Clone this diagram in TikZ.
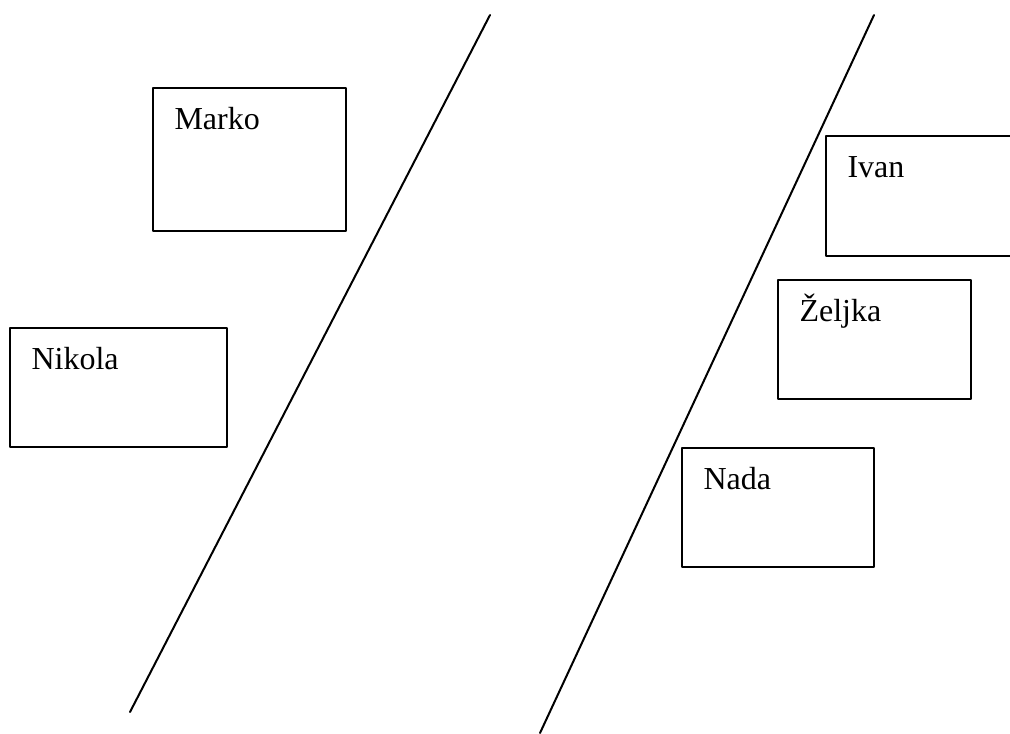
\documentclass[tikz,border=0pt]{standalone}
\usepackage{fontspec}
\setmainfont{Liberation Serif}
\tikzset{
	kutija/.style={draw, line width=0.75pt, inner sep=0pt, outer sep=0pt, anchor=north west},
	ime/.style={anchor=base west, inner sep=0pt, font=\fontsize{12}{14}\selectfont}
}
\begin{document}
\begin{tikzpicture}[x=0.375pt, y=-0.375pt, line join=round, line cap=round]
		\clip (0,0) rectangle (1010,733);
		% dvije kose linije
		\draw[line width=0.75pt] (490,15)--(130,712);
		\draw[line width=0.75pt] (874,15)--(540,733);
		% kutije s imenima
		\foreach \n/\t/\x/\y/\w/\h in {marko/Marko/153/88/193/143, nikola/Nikola/10/328/217/119, ivan/Ivan/826/136/210/120, zeljka/Željka/778/280/193/119, nada/Nada/682/448/192/119}
		{
		\node[kutija, minimum width=\w*0.375pt, minimum height=\h*0.375pt] (\n) at (\x,\y) {};
		\node[ime] (\n-ime) at ([shift={(21,41)}]\n.north west) {\t};
		}
\end{tikzpicture}
\end{document}
